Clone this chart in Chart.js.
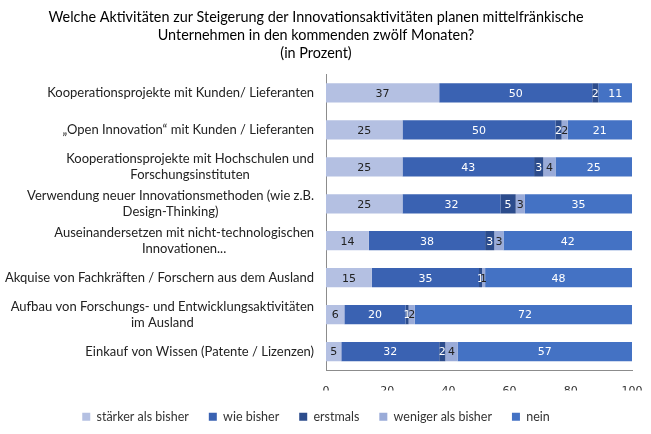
<!DOCTYPE html>
<html>
<head>
<meta charset="utf-8">
<script src="https://cdn.jsdelivr.net/npm/chart.js@4/dist/chart.umd.min.js"></script>
<style>
html,body{margin:0;padding:0;background:#fff;}
#wrap{width:651px;height:434px;position:relative;}
</style>
</head>
<body>
<div id="wrap"><canvas id="c" width="651" height="434"></canvas></div>
<script>
const titleLines = [
  "Welche Aktivitäten zur Steigerung der Innovationsaktivitäten planen mittelfränkische",
  "Unternehmen in den kommenden zwölf Monaten?",
  "(in Prozent)"
];
const categories = [
  ["Kooperationsprojekte mit Kunden/ Lieferanten"],
  ["„Open Innovation“ mit Kunden / Lieferanten"],
  ["Kooperationsprojekte mit Hochschulen und", "Forschungsinstituten"],
  ["Verwendung neuer Innovationsmethoden (wie z.B.", "Design-Thinking)"],
  ["Auseinandersetzen mit nicht-technologischen", "Innovationen..."],
  ["Akquise von Fachkräften / Forschern aus dem Ausland"],
  ["Aufbau von Forschungs- und Entwicklungsaktivitäten", "im Ausland"],
  ["Einkauf von Wissen (Patente / Lizenzen)"]
];
const seriesNames = ["stärker als bisher", "wie bisher", "erstmals", "weniger als bisher", "nein"];
const staerker = [37, 25, 25, 25, 14, 15, 6, 5];
const wieBisher = [50, 50, 43, 32, 38, 35, 20, 32];
const erstmals = [2, 2, 3, 5, 3, 1, 1, 2];
const weniger = [0, 2, 4, 3, 3, 1, 2, 4];
const nein = [11, 21, 25, 35, 42, 48, 72, 57];
const xTicks = [0, 20, 40, 60, 80, 100];

const colors = ["#b4c0e2", "#3a62b2", "#2c4c8c", "#9aabd8", "#4472c4"];
const labelColors = ["#222222", "#ffffff", "#ffffff", "#222222", "#ffffff"];
const seriesValues = [staerker, wieBisher, erstmals, weniger, nein];

const valueLabels = {
  id: 'valueLabels',
  afterDatasetsDraw(chart) {
    const ctx = chart.ctx;
    ctx.save();
    ctx.font = '11px "DejaVu Sans"';
    ctx.textAlign = 'center';
    ctx.textBaseline = 'middle';
    chart.data.datasets.forEach((ds, di) => {
      const meta = chart.getDatasetMeta(di);
      meta.data.forEach((bar, i) => {
        const v = ds.data[i];
        if (!v) return;
        ctx.fillStyle = labelColors[di];
        ctx.fillText(String(v), (bar.x + bar.base) / 2, bar.y + 1);
      });
    });
    ctx.restore();
  }
};

// category labels: block right-aligned to the axis, lines centred within the block
const categoryLabels = {
  id: 'categoryLabels',
  afterDraw(chart) {
    const ctx = chart.ctx;
    const ys = chart.scales.y;
    const right = chart.chartArea.left - 12;
    const lh = 16;
    ctx.save();
    ctx.font = '13px Lato';
    ctx.fillStyle = '#222222';
    ctx.textAlign = 'center';
    ctx.textBaseline = 'middle';
    chart.data.labels.forEach((lines, i) => {
      const y = ys.getPixelForTick(i);
      const w = Math.max(...lines.map(l => ctx.measureText(l).width));
      const cx = right - w / 2;
      const y0 = y - (lines.length - 1) * lh / 2;
      lines.forEach((l, k) => ctx.fillText(l, cx, y0 + k * lh));
    });
    ctx.restore();
  }
};

new Chart(document.getElementById('c'), {
  type: 'bar',
  data: {
    labels: categories,
    datasets: seriesNames.map((n, i) => ({
      label: n,
      data: seriesValues[i],
      backgroundColor: colors[i],
      borderWidth: 0,
      barPercentage: 0.52,
      categoryPercentage: 1
    }))
  },
  options: {
    indexAxis: 'y',
    responsive: false,
    animation: false,
    layout: { padding: { left: 0, right: 19, top: 0, bottom: 1 } },
    plugins: {
      title: {
        display: true,
        text: titleLines,
        color: '#000000',
        font: { family: 'Lato', size: 14.4, weight: 'normal', lineHeight: 1.25 },
        padding: { top: 8, bottom: 12.5 }
      },
      legend: {
        position: 'bottom',
        labels: {
          boxWidth: 8, boxHeight: 8,
          color: '#333333',
          font: { family: 'Lato', size: 12.5 },
          padding: 20
        }
      },
      tooltip: { enabled: false }
    },
    scales: {
      x: {
        stacked: true,
        min: 0, max: 100,
        afterBuildTicks(scale) { scale.ticks = xTicks.map(v => ({ value: v })); },
        grid: { display: false, drawTicks: false },
        border: { display: true, color: '#8c8c8c', width: 1 },
        ticks: { color: '#333333', font: { family: 'DejaVu Sans', size: 11 }, padding: 15 },
        afterFit(scale) { scale.height = 20.5; scale.paddingRight = 0; scale.paddingLeft = 0; }
      },
      y: {
        stacked: true,
        grid: { display: false, drawTicks: false },
        border: { display: true, color: '#8c8c8c', width: 1 },
        ticks: { display: false, autoSkip: false },
        afterFit(scale) { scale.width = 326; }
      }
    }
  },
  plugins: [valueLabels, categoryLabels]
});
</script>
</body>
</html>
